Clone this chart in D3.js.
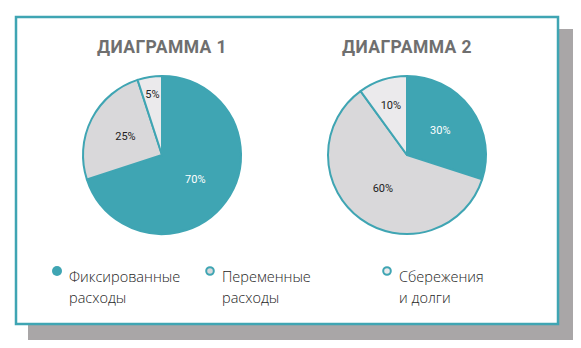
<!DOCTYPE html>
<html><head><meta charset="utf-8">
<script src="https://cdn.jsdelivr.net/npm/d3@7"></script>
<style>body{margin:0;background:#fff}svg{display:block}</style>
</head><body><svg id="c" width="581" height="348"></svg>
<script>
const categories = ["Фиксированные расходы", "Переменные расходы", "Сбережения и долги"];
const legendLines = [["Фиксированные", "расходы"], ["Переменные", "расходы"], ["Сбережения", "и долги"]];
const titles = ["ДИАГРАММА 1", "ДИАГРАММА 2"];
const values1 = [70, 25, 5];
const values2 = [30, 60, 10];

const teal = "#3fa5b3";
const colors = [teal, "#d9d8da", "#ebeaec"];
const svg = d3.select("#c");

// shadow and frame
svg.append("rect").attr("x", 28).attr("y", 29).attr("width", 545).attr("height", 311).attr("fill", "#a9a6a7");
svg.append("rect").attr("x", 16).attr("y", 17).attr("width", 542).attr("height", 307)
  .attr("fill", "#fff").attr("stroke", teal).attr("stroke-width", 2.5);

const R = 79;
const pie = d3.pie().sort(null).value(d => d);
const arc = d3.arc().innerRadius(0).outerRadius(R);
const colorScale = d3.scaleOrdinal().domain(categories).range(colors);

function drawPie(values, cx, cy, title) {
  const g = svg.append("g").attr("transform", `translate(${cx},${cy})`);
  const arcs = pie(values);
  g.selectAll("path").data(arcs).join("path")
    .attr("d", arc)
    .attr("fill", (d, i) => colorScale(categories[i]))
    .attr("stroke", teal).attr("stroke-width", 2).attr("stroke-linejoin", "round");
  g.selectAll("text").data(arcs).join("text")
    .attr("transform", d => {
      const frac = d.value / 100;
      const lr = frac <= 0.05 ? R * 0.78 : frac <= 0.1 ? R * 0.66 : R * 0.52;
      const a = d3.arc().innerRadius(lr).outerRadius(lr);
      return `translate(${a.centroid(d)})`;
    })
    .attr("text-anchor", "middle").attr("dominant-baseline", "central")
    .attr("font-family", "'Liberation Sans Narrow', 'Roboto', sans-serif")
    .attr("font-size", 11)
    .attr("fill", (d, i) => i === 0 ? "#ffffff" : "#222")
    .text(d => d.value + "%");
  svg.append("text").attr("x", cx).attr("y", 53)
    .attr("text-anchor", "middle")
    .attr("font-family", "Roboto, sans-serif").attr("font-weight", 700)
    .attr("font-size", 17.5).attr("letter-spacing", 0.4)
    .attr("fill", "#6f6f6f").text(title);
}
drawPie(values1, 162, 155, titles[0]);
drawPie(values2, 407, 155, titles[1]);

// legend
const legX = [57, 210, 387];
const lg = svg.append("g");
categories.forEach((c, i) => {
  const g = lg.append("g");
  if (i === 0) {
    g.append("circle").attr("cx", legX[i]).attr("cy", 271).attr("r", 5).attr("fill", teal);
  } else {
    g.append("circle").attr("cx", legX[i]).attr("cy", 271).attr("r", 3.8)
      .attr("fill", colors[i]).attr("stroke", teal).attr("stroke-width", 2);
  }
  legendLines[i].forEach((t, j) => {
    g.append("text").attr("x", legX[i] + 12).attr("y", 282 + j * 21)
      .attr("font-family", "'Open Sans', sans-serif").attr("font-weight", 300)
      .attr("font-size", 14.5).attr("fill", "#1e1e1e").text(t);
  });
});
</script></body></html>
